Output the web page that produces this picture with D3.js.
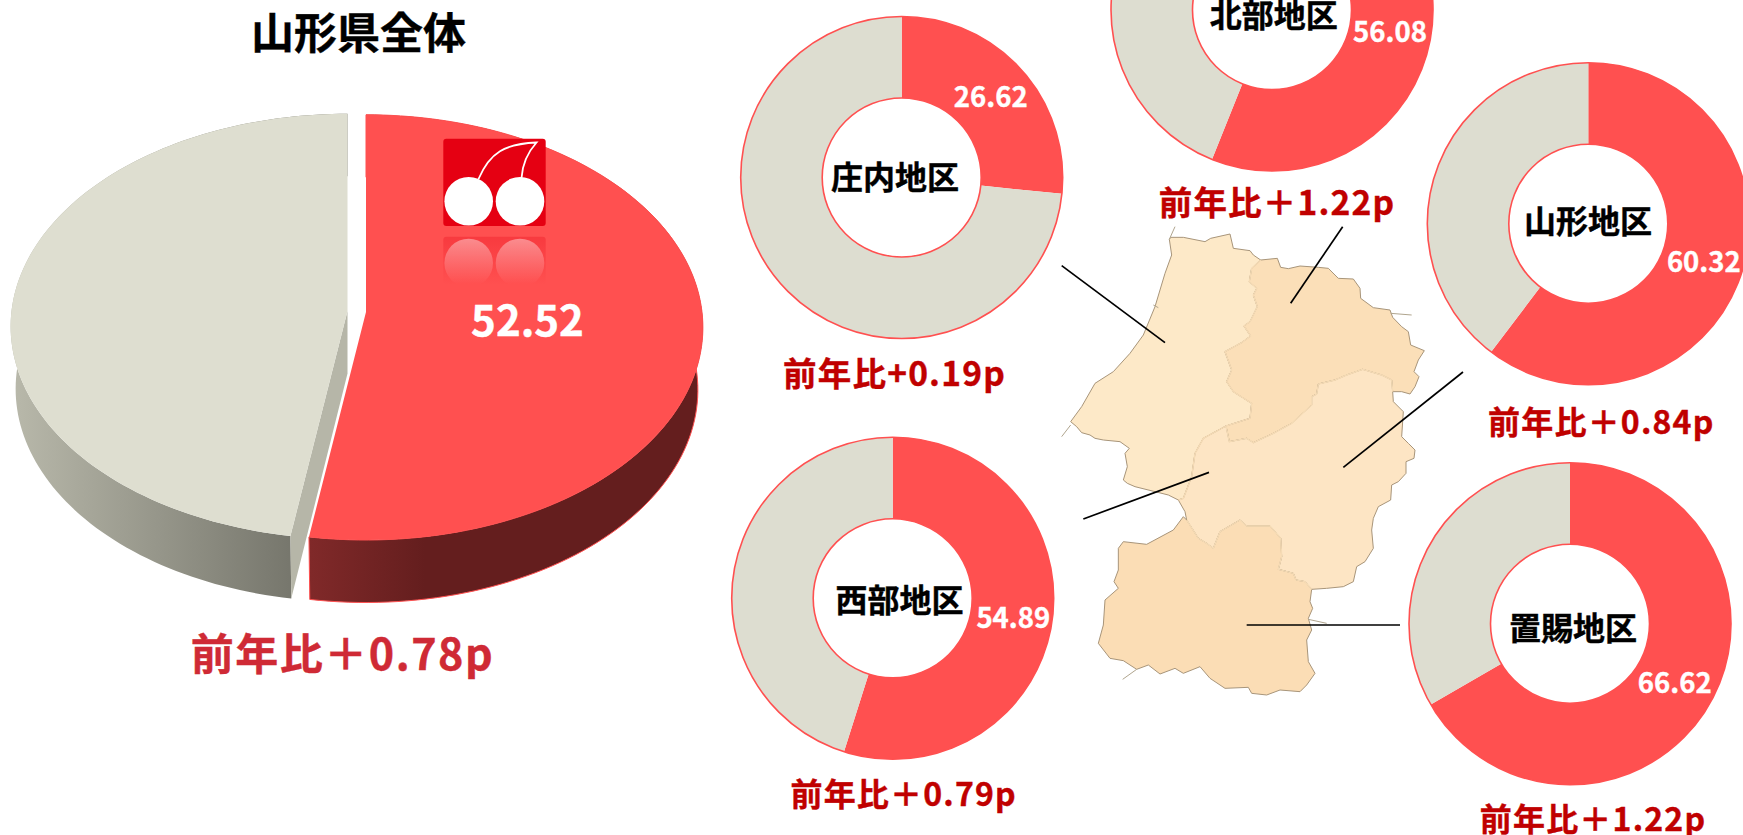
<!DOCTYPE html>
<html lang="ja">
<head>
<meta charset="utf-8">
<script src="https://cdn.jsdelivr.net/npm/d3@7"></script>
<style>
  html, body { margin: 0; padding: 0; background: #fff; overflow: hidden; }
  text { font-family: "Noto Sans CJK JP", "Noto Sans", sans-serif; font-weight: 700; text-anchor: middle; }
</style>
</head>
<body>
<div id="chart-container"></div>
<script>
// values
const totalTitle = "山形県全体";
const totalValue = 52.52;
const totalChange = "前年比＋0.78p";

const areaNames = ["庄内地区", "北部地区", "山形地区", "西部地区", "置賜地区"];
const areaValues = [26.62, 56.08, 60.32, 54.89, 66.62];
const areaChanges = ["前年比+0.19p", "前年比＋1.22p", "前年比＋0.84p", "前年比＋0.79p", "前年比＋1.22p"];

// where each donut and its labels sit on the slide
const donutCenters = [[901.7, 177.5], [1272, 10], [1588.3, 223.7], [892.7, 598.3], [1570, 623.7]];
const valueSpots = [[990.7, 106.7], [1390, 42.3], [1703.8, 272.3], [1013.3, 627.7], [1674.7, 693.3]];
const nameSpots = [[895, 188.5], [1273.7, 27], [1588, 232.5], [899.5, 612], [1573, 640]];
const changeSpots = [[894.5, 386], [1277, 215], [1601.3, 434.3], [903.7, 805.7], [1593, 831]];
const changeSizes = [33.5, 33.5, 32, 32, 32];

// map outline, in pixels of the traced 1200x1500 crop
const borderShonaiHokubu = [[662,150],[635,175],[628,215],[650,235],[640,255],[652,290],[630,335],[612,348],[632,378],[605,398],[555,425],[575,480],[560,515],[580,545],[635,580],[630,625],[558,648]];
const borderHokubuMurayama = [[558,648],[568,695],[620,685],[640,698],[700,670],[755,640],[815,585],[815,560],[830,552],[835,522],[885,510],[920,495],[968,478],[1025,495],[1055,510],[1058,545]];
const borderShonaiMurayama = [[558,648],[490,685],[465,730],[455,800],[430,865],[415,870]];
const borderMurayamaOkitama = [[440,930],[475,985],[500,1000],[520,1015],[540,965],[600,930],[620,948],[690,948],[722,985],[725,1040],[715,1078],[760,1090],[768,1110],[795,1115],[815,1138]];

const coastShonai = [[415,870],[385,855],[345,845],[285,830],[262,820],[250,810],[262,770],[255,730],[268,715],[240,695],[190,690],[165,685],[150,675],[125,668],[110,650],[92,635],[125,590],[165,520],[220,485],[270,430],[310,375],[345,290],[375,190],[395,135],[388,88],[392,82],[430,82],[495,95],[512,85],[570,72],[580,115],[630,122],[640,135],[662,150]];
const edgeHokubu = [[662,150],[712,145],[722,172],[745,176],[780,168],[835,172],[865,175],[895,205],[940,207],[960,235],[962,265],[1000,293],[1050,300],[1058,322],[1085,350],[1105,365],[1112,405],[1153,422],[1135,450],[1122,485],[1137,500],[1125,530],[1110,552],[1085,545],[1058,545]];
const edgeMurayama = [[1058,545],[1060,575],[1090,605],[1085,680],[1105,700],[1125,720],[1122,745],[1098,755],[1098,790],[1075,815],[1055,825],[1052,870],[1015,890],[1000,925],[995,960],[1000,1015],[975,1055],[950,1070],[940,1115],[910,1130],[860,1135],[815,1138]];
const edgeOkitama = [[815,1138],[810,1175],[818,1195],[805,1225],[815,1260],[800,1290],[805,1355],[825,1390],[800,1425],[780,1445],[720,1440],[680,1455],[635,1450],[625,1432],[555,1435],[510,1405],[480,1370],[430,1390],[405,1375],[360,1392],[325,1365],[290,1378],[250,1352],[210,1345],[175,1300],[190,1245],[195,1170],[235,1135],[222,1115],[235,1080],[235,1015],[250,995],[320,1003],[400,960],[430,920],[440,930]];
const edgeWestGap = [[415,870],[435,905],[440,930]];
const mapStubs = [[[405,50],[388,88]], [[92,645],[65,680]], [[1052,310],[1115,315]], [[805,1228],[860,1240]], [[290,1378],[248,1408]], [[340,285],[355,293]]];
const leaderLines = [[[65,167],[375,398]], [[908,50],[752,280]], [[1269,486],[910,772]], [[130,927],[507,787]], [[620,1245],[1080,1245]]];

const RED = "#FF5050", GREY = "#DEDED0";

const svg = d3.select("#chart-container").append("svg")
  .attr("width", 1743).attr("height", 835)
  .style("display", "block");
const defs = svg.append("defs");

function hGradient(id, x1, x2, from, to) {
  const g = defs.append("linearGradient").attr("id", id)
    .attr("gradientUnits", "userSpaceOnUse")
    .attr("x1", x1).attr("x2", x2).attr("y1", 0).attr("y2", 0);
  g.append("stop").attr("offset", 0).attr("stop-color", from);
  g.append("stop").attr("offset", 1).attr("stop-color", to);
}
function vGradient(id, y1, y2, stops) {
  const g = defs.append("linearGradient").attr("id", id)
    .attr("gradientUnits", "userSpaceOnUse")
    .attr("x1", 0).attr("x2", 0).attr("y1", y1).attr("y2", y2);
  stops.forEach(s => g.append("stop").attr("offset", s[0]).attr("stop-color", s[1]).attr("stop-opacity", s[2]));
}
hGradient("redSide", 310, 425, "#802929", "#641E1E");
hGradient("greySide", 14, 289, "#B8B8AA", "#77776D");

//-------- map
const mapX = d3.scaleLinear().domain([0, 1200]).range([1040, 1440]);
const mapY = d3.scaleLinear().domain([0, 1500]).range([210, 710]);
const mapLine = d3.line().x(d => mapX(d[0])).y(d => mapY(d[1]));

const rev = a => a.slice().reverse();
const regions = [
  { fill: "#FDE9C8", pts: [...coastShonai, ...borderShonaiHokubu, ...borderShonaiMurayama] },
  { fill: "#FBDFB8", pts: [...edgeHokubu, ...rev(borderHokubuMurayama), ...rev(borderShonaiHokubu)] },
  { fill: "#FDE5C4", pts: [...borderHokubuMurayama, ...edgeMurayama, ...rev(borderMurayamaOkitama), ...rev(edgeWestGap), ...rev(borderShonaiMurayama)] },
  { fill: "#FBDDB5", pts: [...borderMurayamaOkitama, ...edgeOkitama] }
];
const map = svg.append("g");
map.selectAll("path.region").data(regions).enter().append("path")
  .attr("class", "region")
  .attr("d", d => mapLine(d.pts) + "Z")
  .attr("fill", d => d.fill)
  .attr("stroke", "#A8957A").attr("stroke-width", 1).attr("stroke-linejoin", "round");
map.selectAll("path.inner")
  .data([borderShonaiHokubu, borderHokubuMurayama, borderShonaiMurayama, borderMurayamaOkitama])
  .enter().append("path")
  .attr("class", "inner")
  .attr("d", mapLine).attr("fill", "none")
  .attr("stroke", "#F5DBB5").attr("stroke-width", 1.4);
map.selectAll("path.stub").data(mapStubs).enter().append("path")
  .attr("class", "stub")
  .attr("d", mapLine).attr("fill", "none")
  .attr("stroke", "#B0A58E").attr("stroke-width", 1);
map.selectAll("path.leader").data(leaderLines).enter().append("path")
  .attr("class", "leader")
  .attr("d", mapLine).attr("fill", "none")
  .attr("stroke", "#000").attr("stroke-width", 1.7);

//-------- 3D pie for the whole prefecture
const pieAngles = d3.pie().sort(null)([totalValue, 100 - totalValue]);
const persp = -0.0724;
function project(theta, cx, cy, a) {
  const X = Math.sin(theta), Y = -Math.cos(theta);
  const k = 1 + persp * Y;
  return [cx + a * X / k, cy + 211.5 * Y / k];
}
const arcPoints = (start, end, cx, cy, a) =>
  d3.range(0, 121).map(i => project(start + (end - start) * i / 120, cx, cy, a));

const depth = 62.5;
const topW = 336, botW = 331;
const slices = [
  { arc: pieAngles[1], cx: 347.5, cy: 311, fill: GREY, side: "url(#greySide)" },
  { arc: pieAngles[0], cx: 366, cy: 312, fill: RED, side: "url(#redSide)" }
];
const plainLine = d3.line();
const pie3d = svg.append("g");

slices.forEach(s => {
  const top = arcPoints(s.arc.startAngle, s.arc.endAngle, s.cx, s.cy, topW);
  const bot = arcPoints(s.arc.startAngle, s.arc.endAngle, s.cx, s.cy + depth, botW);
  const path = pie3d.append("path")
    .attr("d", plainLine([...top, ...rev(bot)]) + "Z")
    .attr("fill", s.side);
  if (s.fill === RED) path.attr("stroke", RED).attr("stroke-width", 1);
  if (s.fill === GREY) {
    // cut face of the grey slice shows through the gap
    const tipTop = top[0], tipBot = bot[0];
    pie3d.append("path")
      .attr("d", plainLine([[s.cx, s.cy], tipTop, tipBot, [s.cx, s.cy + depth]]) + "Z")
      .attr("fill", "#B6B6A8");
  }
});
slices.forEach(s => {
  const top = arcPoints(s.arc.startAngle, s.arc.endAngle, s.cx, s.cy, topW);
  pie3d.append("path")
    .attr("d", plainLine([[s.cx, s.cy], ...top]) + "Z")
    .attr("fill", s.fill);
});

//-------- cherry logo on the pie
vGradient("logoFade", 236, 285, [[0, "#E50012", 0.28], [1, "#E50012", 0]]);
vGradient("ballFade", 238, 284, [[0, "#FFFFFF", 0.42], [1, "#FFFFFF", 0]]);
const logo = svg.append("g");
logo.append("rect").attr("x", 443.3).attr("y", 138.7).attr("width", 102.4).attr("height", 87.3).attr("rx", 3).attr("fill", "#E50012");
logo.append("path").attr("d", "M478.5,179 C490,152 505,144 536.5,142.5 C528,152 522.5,162 521.5,178")
  .attr("fill", "none").attr("stroke", "#fff").attr("stroke-width", 1.8);
logo.selectAll("circle.ball").data([468.7, 520]).enter().append("circle")
  .attr("class", "ball").attr("cx", d => d).attr("cy", 201.3).attr("r", 24.3).attr("fill", "#fff");
logo.append("rect").attr("x", 443.3).attr("y", 236.7).attr("width", 102.4).attr("height", 48.5).attr("rx", 3).attr("fill", "url(#logoFade)");
logo.selectAll("circle.mirror").data([468.7, 520]).enter().append("circle")
  .attr("class", "mirror").attr("cx", d => d).attr("cy", 263).attr("r", 24.3).attr("fill", "url(#ballFade)");

//-------- donuts for each area
const donutPie = d3.pie().sort(null);
const rOuter = 161, rInner = 79.5;
const donutArc = d3.arc().innerRadius(rInner).outerRadius(rOuter);

const donut = svg.selectAll("g.donut").data(areaValues).enter().append("g")
  .attr("class", "donut")
  .attr("transform", (d, i) => `translate(${donutCenters[i][0]},${donutCenters[i][1]})`);
donut.selectAll("path")
  .data(d => donutPie([d, 100 - d]))
  .enter().append("path")
  .attr("d", donutArc)
  .attr("fill", (d, i) => i === 0 ? RED : "#DDDDD0");
[rOuter, rInner].forEach(r => {
  donut.append("circle").attr("r", r)
    .attr("fill", "none").attr("stroke", RED).attr("stroke-width", 1.6);
});

//-------- text
function putText(label, x, y, size, fill, spacing) {
  svg.append("text").attr("x", x).attr("y", y)
    .attr("font-size", size).attr("fill", fill)
    .attr("stroke", fill).attr("stroke-width", 0.4)
    .attr("letter-spacing", spacing || 0)
    .text(label);
}
putText(totalTitle, 358.5, 48.5, 43, "#000");
putText(totalValue.toFixed(2), 527.5, 336, 42, "#fff");
putText(totalChange, 342.5, 670, 43, "#CF2A35", 1.5);
areaValues.forEach((v, i) => {
  putText(v.toFixed(2), valueSpots[i][0], valueSpots[i][1], 27.5, "#fff");
  putText(areaNames[i], nameSpots[i][0], nameSpots[i][1], 32, "#000");
  putText(areaChanges[i], changeSpots[i][0], changeSpots[i][1], changeSizes[i], "#C00000", 1.2);
});
</script>
</body>
</html>
